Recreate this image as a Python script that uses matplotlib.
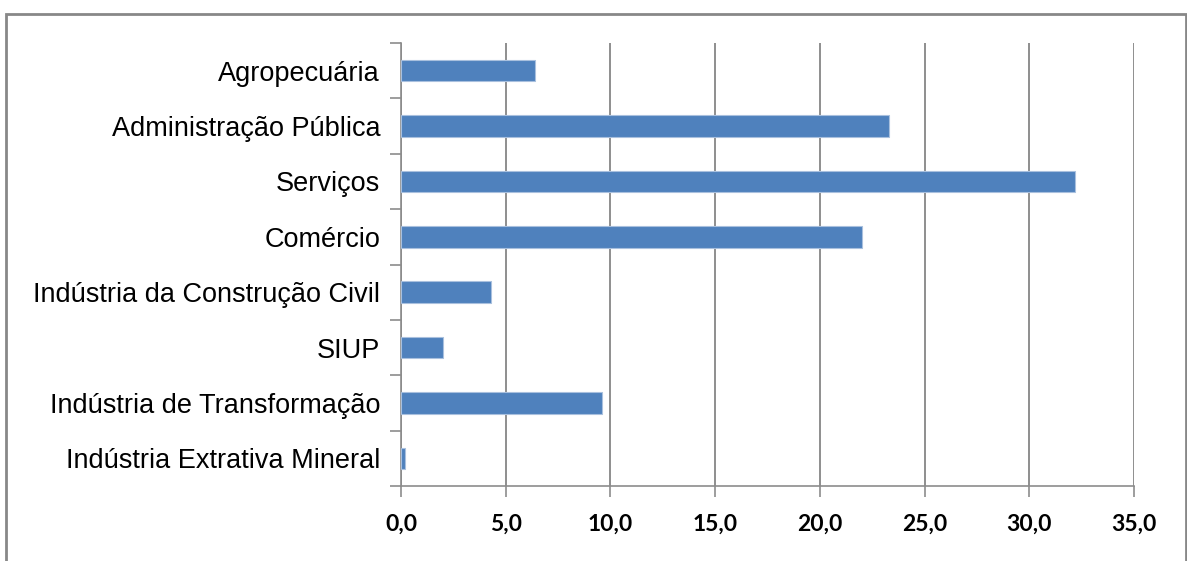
import matplotlib.pyplot as plt
from matplotlib.patches import Rectangle
from matplotlib.ticker import MultipleLocator, FuncFormatter

# dados (de baixo para cima)
setores = ['Indústria Extrativa Mineral', 'Indústria de Transformação', 'SIUP',
           'Indústria da Construção Civil', 'Comércio', 'Serviços',
           'Administração Pública', 'Agropecuária']
valores = [0.2, 9.6, 2.0, 4.3, 22.0, 32.2, 23.3, 6.4]

cinza = '#8c8c8c'

fig = plt.figure(figsize=(11.87, 5.61), dpi=100)
# moldura externa do gráfico (estilo Excel)
fig.patches.append(Rectangle((6 / 1187, -0.05), 1180 / 1187, 1.05 - 14 / 561,
                             transform=fig.transFigure, fill=False,
                             edgecolor='#888888', linewidth=2))

ax = fig.add_axes([401 / 1187, 1 - 486 / 561, 733 / 1187, 443 / 561])
pos = list(range(len(setores)))
ax.barh(pos, valores, height=0.39, color='#4f81bd', edgecolor='#a9c0de',
        linewidth=0.8, zorder=3)

ax.set_xlim(0, 35)
ax.set_ylim(-0.5, len(setores) - 0.5)
ax.xaxis.set_major_locator(MultipleLocator(5))
ax.xaxis.set_major_formatter(FuncFormatter(lambda v, p: ('%.1f' % v).replace('.', ',')))
ax.grid(axis='x', color='#868686', linewidth=1.3, zorder=0)

# rótulos das categorias, ticks entre as categorias
ax.set_yticks(pos)
ax.set_yticklabels(setores, fontsize=19.5, family='Liberation Sans')
ax.set_yticks([p - 0.5 for p in pos] + [len(setores) - 0.5], minor=True)
ax.tick_params(axis='y', which='major', length=0, pad=15)
ax.tick_params(axis='y', which='minor', length=8, color=cinza, width=1.2)
ax.tick_params(axis='x', length=8, color=cinza, width=1.2, pad=12)
for t in ax.get_xticklabels():
    t.set_fontsize(16.5)
    t.set_family('Lato')
    t.set_fontweight('bold')

for s in ['top', 'right']:
    ax.spines[s].set_visible(False)
for s in ['left', 'bottom']:
    ax.spines[s].set_color(cinza)
    ax.spines[s].set_linewidth(1.2)

fig.savefig('out.png', dpi=100)
